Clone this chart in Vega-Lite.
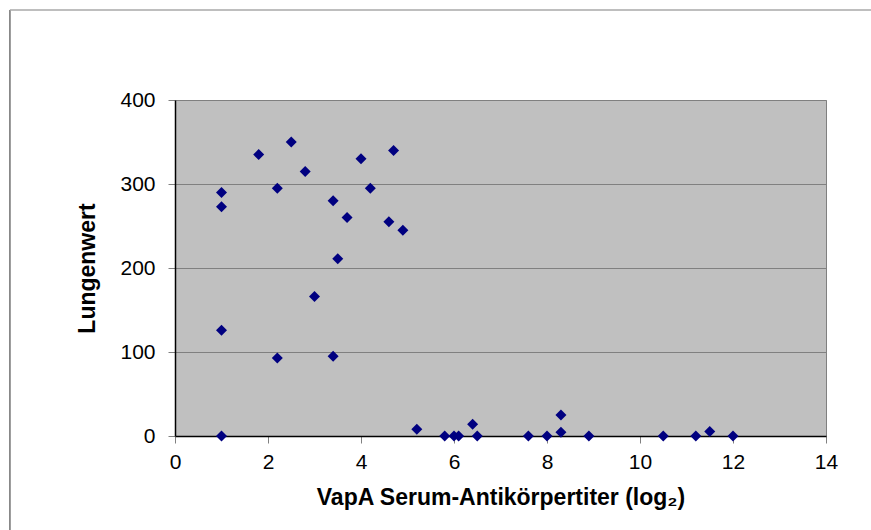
{
  "$schema": "https://vega.github.io/schema/vega-lite/v6.json",
  "width": 651,
  "height": 336,
  "autosize": {"type": "none"},
  "padding": {"left": 175, "top": 100, "right": 45, "bottom": 94},
  "background": "white",
  "config": {
    "view": {"fill": "#C0C0C0", "stroke": "#808080", "strokeWidth": 1},
    "font": "Liberation Sans"
  },
  "datasets": {
    "points": [
      {"titer": 1.0, "lung": 290},
      {"titer": 1.0, "lung": 273},
      {"titer": 1.0, "lung": 126},
      {"titer": 1.0, "lung": 0},
      {"titer": 1.8, "lung": 335},
      {"titer": 2.2, "lung": 295},
      {"titer": 2.2, "lung": 93},
      {"titer": 2.5, "lung": 350},
      {"titer": 2.8, "lung": 315},
      {"titer": 3.0, "lung": 166},
      {"titer": 3.4, "lung": 280},
      {"titer": 3.4, "lung": 95},
      {"titer": 3.5, "lung": 211},
      {"titer": 3.7, "lung": 260},
      {"titer": 4.0, "lung": 330},
      {"titer": 4.2, "lung": 295},
      {"titer": 4.6, "lung": 255},
      {"titer": 4.7, "lung": 340},
      {"titer": 4.9, "lung": 245},
      {"titer": 5.2, "lung": 8},
      {"titer": 5.8, "lung": 0},
      {"titer": 6.0, "lung": 0},
      {"titer": 6.1, "lung": 0},
      {"titer": 6.4, "lung": 14},
      {"titer": 6.5, "lung": 0},
      {"titer": 7.6, "lung": 0},
      {"titer": 8.0, "lung": 0},
      {"titer": 8.3, "lung": 25},
      {"titer": 8.3, "lung": 4.5},
      {"titer": 8.9, "lung": 0},
      {"titer": 10.5, "lung": 0},
      {"titer": 11.2, "lung": 0},
      {"titer": 11.5, "lung": 5.5},
      {"titer": 12.0, "lung": 0}
    ],
    "frameLeft": [{"fx": -3.55, "fy": 507.1, "fy2": -200}],
    "frameTop": [{"fx": -3.55, "fx2": 20, "fy": 507.1}]
  },
  "layer": [
    {
      "data": {"name": "points"},
      "mark": {"type": "point", "shape": "diamond", "filled": true, "size": 121, "color": "#000080", "opacity": 1},
      "encoding": {
        "x": {
          "field": "titer", "type": "quantitative",
          "scale": {"domain": [0, 14], "nice": false, "zero": true},
          "axis": {
            "title": "VapA Serum-Antikörpertiter (log₂)",
            "values": [0, 2, 4, 6, 8, 10, 12, 14],
            "grid": false,
            "labelFlush": false,
            "domainColor": "#000000", "domainWidth": 1.5,
            "tickColor": "#808080", "tickSize": 7,
            "labelFontSize": 21, "labelColor": "#000000", "labelPadding": 8, "labelFont": "Liberation Sans",
            "titleFontSize": 23, "titleFontWeight": "bold", "titleColor": "#000000", "titlePadding": 14, "titleFont": "Liberation Sans"
          }
        },
        "y": {
          "field": "lung", "type": "quantitative",
          "scale": {"domain": [0, 400], "nice": false},
          "axis": {
            "title": "Lungenwert",
            "values": [0, 100, 200, 300, 400],
            "grid": true, "gridColor": "#808080", "gridWidth": 1,
            "labelFlush": false,
            "domainColor": "#000000", "domainWidth": 1.5,
            "tickColor": "#808080", "tickSize": 7,
            "labelFontSize": 21, "labelColor": "#000000", "labelPadding": 13, "labelFont": "Liberation Sans",
            "titleFontSize": 23, "titleFontWeight": "bold", "titleColor": "#000000", "titlePadding": 20, "titleFont": "Liberation Sans"
          }
        }
      }
    },
    {
      "data": {"name": "frameLeft"},
      "mark": {"type": "rule", "color": "#707070", "strokeWidth": 1.5, "clip": false},
      "encoding": {
        "x": {"field": "fx", "type": "quantitative"},
        "y": {"field": "fy", "type": "quantitative"},
        "y2": {"field": "fy2"}
      }
    },
    {
      "data": {"name": "frameTop"},
      "mark": {"type": "rule", "color": "#A8A8A8", "strokeWidth": 1.5, "clip": false},
      "encoding": {
        "x": {"field": "fx", "type": "quantitative"},
        "x2": {"field": "fx2"},
        "y": {"field": "fy", "type": "quantitative"}
      }
    }
  ]
}
